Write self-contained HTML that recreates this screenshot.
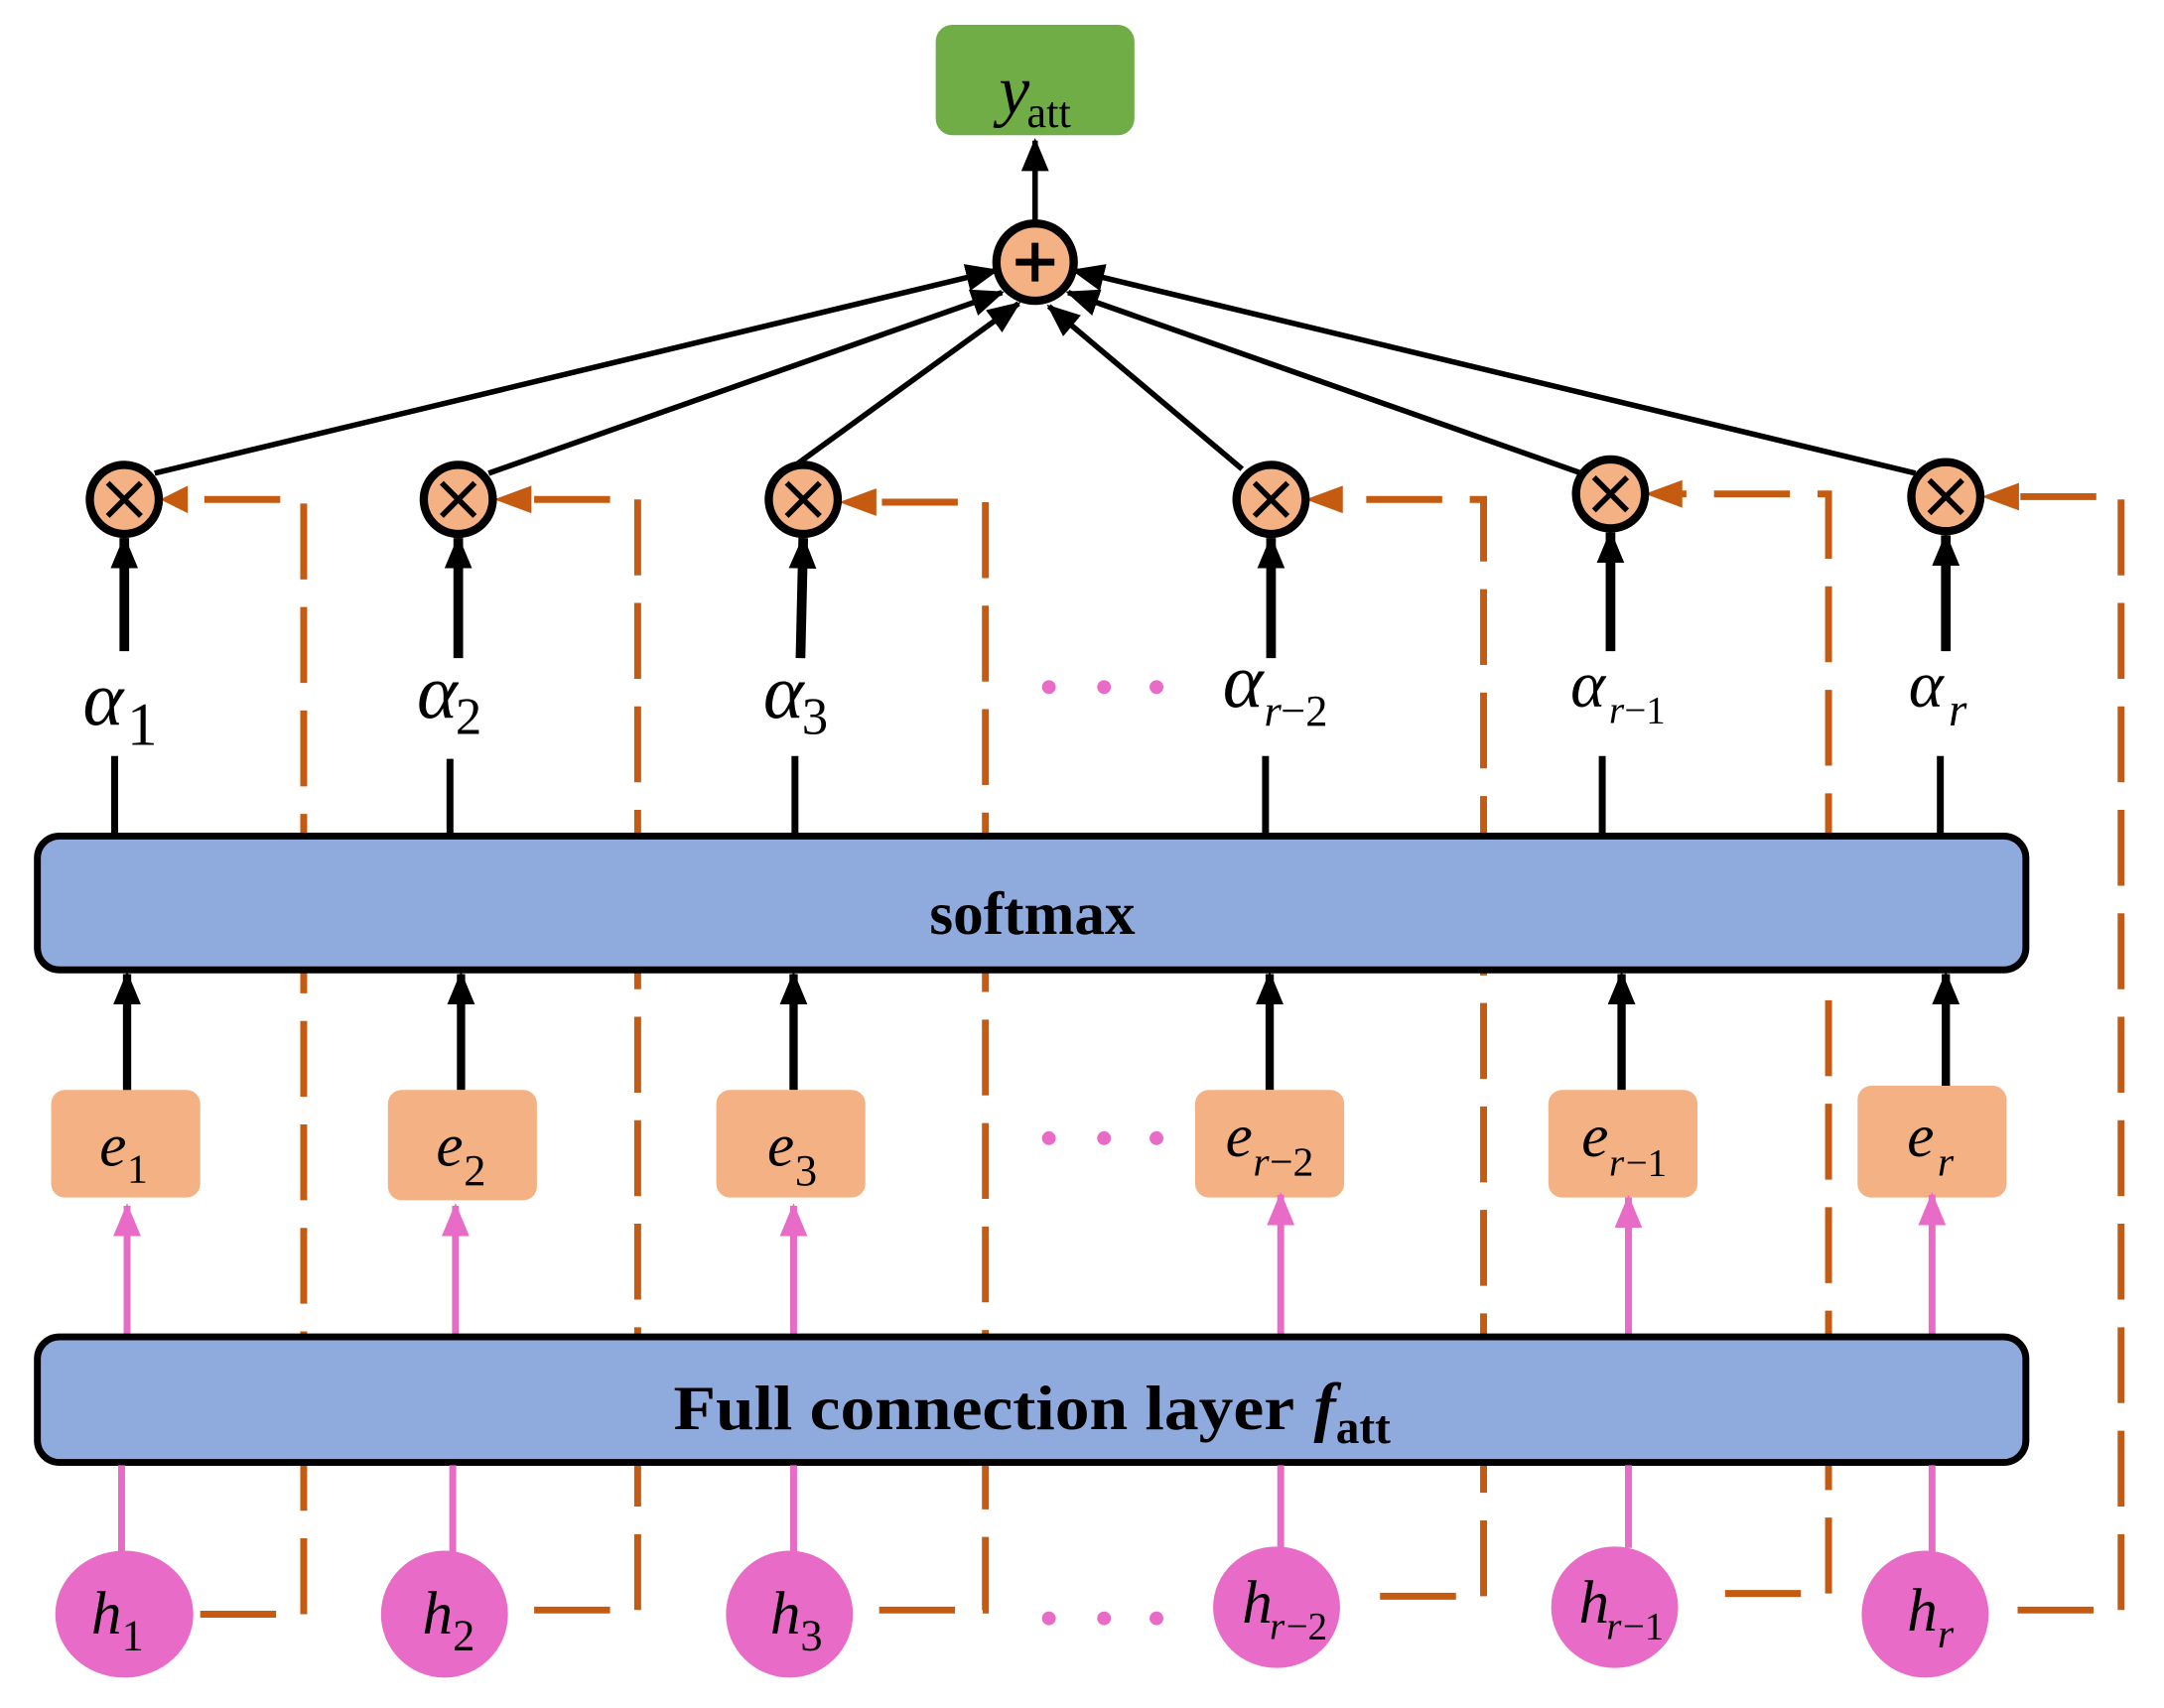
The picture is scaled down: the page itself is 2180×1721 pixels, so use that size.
<!DOCTYPE html>
<html><head><meta charset="utf-8"><style>
html,body{margin:0;padding:0;background:#fff;}
svg{display:block}
text{font-family:"Liberation Serif",serif;}
</style></head><body>
<svg width="2180" height="1721" viewBox="0 0 1568 1238" xmlns="http://www.w3.org/2000/svg">
<defs>
<marker id="abig" markerWidth="24" markerHeight="24" refX="22" refY="12" orient="auto" markerUnits="userSpaceOnUse"><path d="M0,2 L24,12 L0,22 z" fill="#000"/></marker>
<marker id="ap" markerWidth="24" markerHeight="24" refX="22" refY="12" orient="auto" markerUnits="userSpaceOnUse"><path d="M0,2 L24,12 L0,22 z" fill="#e96bc8"/></marker>
</defs>
<g fill="none" stroke="#c55a11" stroke-width="5" stroke-dasharray="55,20">
<path d="M145,1170 L220,1170 L220,362 L140,362"/>
<path d="M387,1167 L462,1167 L462,362 L382,362"/>
<path d="M637,1167 L714,1167 L714,364 L632,364"/>
<path d="M1000,1157 L1075,1157 L1075,362 L970,362"/>
<path d="M1250,1155 L1325,1155 L1325,358 L1217,358"/>
<path d="M1462,1167 L1537,1167 L1537,360 L1460,360"/>
</g>
<g fill="#c55a11">
<path d="M116,362 L136,352 L136,372 z"/>
<path d="M358,362 L385,352 L385,372 z"/>
<path d="M608,364 L635,354 L635,374 z"/>
<path d="M946,362 L973,352 L973,372 z"/>
<path d="M1192,358 L1219,348 L1219,368 z"/>
<path d="M1436,360 L1463,350 L1463,370 z"/>
</g>
<rect x="678" y="18" width="144" height="80" rx="12" fill="#70ad47"/>
<text x="746" y="82" font-size="50" font-style="italic" text-anchor="end">y</text>
<text x="744" y="92" font-size="32">att</text>
<line x1="750" y1="162" x2="750" y2="102" stroke="#000" stroke-width="4" marker-end="url(#abig)"/>
<g stroke="#000" stroke-width="4" marker-end="url(#abig)">
<line x1="112" y1="343" x2="722" y2="196"/>
<line x1="354" y1="343" x2="726" y2="212"/>
<line x1="578" y1="336" x2="738" y2="220"/>
<line x1="900" y1="340" x2="760" y2="222"/>
<line x1="1146" y1="343" x2="774" y2="212"/>
<line x1="1388" y1="343" x2="778" y2="196"/>
</g>
<circle cx="750" cy="190" r="28" fill="#f4b183" stroke="#000" stroke-width="6"/>
<path d="M736,190 H764 M750,176 V204" stroke="#000" stroke-width="5"/>
<g>
<g transform="translate(90,362)"><circle r="25" fill="#f4b183" stroke="#000" stroke-width="6"/><path d="M-12,-12 L12,12 M12,-12 L-12,12" stroke="#000" stroke-width="4"/></g>
<g transform="translate(332,362)"><circle r="25" fill="#f4b183" stroke="#000" stroke-width="6"/><path d="M-12,-12 L12,12 M12,-12 L-12,12" stroke="#000" stroke-width="4"/></g>
<g transform="translate(582,362)"><circle r="25" fill="#f4b183" stroke="#000" stroke-width="6"/><path d="M-12,-12 L12,12 M12,-12 L-12,12" stroke="#000" stroke-width="4"/></g>
<g transform="translate(921,362)"><circle r="25" fill="#f4b183" stroke="#000" stroke-width="6"/><path d="M-12,-12 L12,12 M12,-12 L-12,12" stroke="#000" stroke-width="4"/></g>
<g transform="translate(1167,358)"><circle r="25" fill="#f4b183" stroke="#000" stroke-width="6"/><path d="M-12,-12 L12,12 M12,-12 L-12,12" stroke="#000" stroke-width="4"/></g>
<g transform="translate(1410,360)"><circle r="25" fill="#f4b183" stroke="#000" stroke-width="6"/><path d="M-12,-12 L12,12 M12,-12 L-12,12" stroke="#000" stroke-width="4"/></g>
</g>
<g stroke="#000" stroke-width="7" marker-end="url(#abig)">
<line x1="90" y1="472" x2="90" y2="390"/>
<line x1="332" y1="477" x2="332" y2="390"/>
<line x1="580" y1="477" x2="582" y2="390"/>
<line x1="921" y1="477" x2="921" y2="390"/>
<line x1="1167" y1="472" x2="1167" y2="386"/>
<line x1="1410" y1="472" x2="1410" y2="388"/>
</g>
<g font-style="italic" font-size="56">
<text x="60" y="525">α</text><text x="92" y="540" font-style="normal" font-size="44">1</text>
<text x="302" y="520">α</text><text x="330" y="532" font-style="normal" font-size="38">2</text>
<text x="553" y="520">α</text><text x="581" y="532" font-style="normal" font-size="38">3</text>
<text x="886" y="512">α</text><text x="916" y="526" font-size="32">r</text><text x="928" y="526" font-style="normal" font-size="32">−2</text>
<text x="1138" y="512" font-size="48">α</text><text x="1166" y="524" font-size="28">r</text><text x="1177" y="524" font-style="normal" font-size="28">−1</text>
<text x="1383" y="512" font-size="48">α</text><text x="1412" y="526" font-size="34">r</text>
</g>
<g fill="#e96bc8"><circle cx="760" cy="498" r="5"/><circle cx="800" cy="498" r="5"/><circle cx="838" cy="498" r="5"/>
<circle cx="760" cy="825" r="5"/><circle cx="800" cy="825" r="5"/><circle cx="838" cy="825" r="5"/>
<circle cx="760" cy="1173" r="5"/><circle cx="800" cy="1173" r="5"/><circle cx="838" cy="1173" r="5"/></g>
<g stroke="#000" stroke-width="5">
<line x1="83" y1="548" x2="83" y2="606"/><line x1="326" y1="550" x2="326" y2="606"/><line x1="576" y1="548" x2="576" y2="606"/>
<line x1="917" y1="548" x2="917" y2="606"/><line x1="1161" y1="548" x2="1161" y2="606"/><line x1="1406" y1="548" x2="1406" y2="606"/>
</g>
<rect x="27" y="606" width="1441" height="97" rx="16" fill="#8faadc" stroke="#000" stroke-width="5"/>
<text x="748" y="677" font-size="44" font-weight="bold" text-anchor="middle">softmax</text>
<g stroke="#000" stroke-width="6" marker-end="url(#abig)">
<line x1="92" y1="792" x2="92" y2="706"/><line x1="334" y1="790" x2="334" y2="706"/><line x1="575" y1="790" x2="575" y2="706"/>
<line x1="920" y1="790" x2="920" y2="706"/><line x1="1175" y1="790" x2="1175" y2="706"/><line x1="1410" y1="788" x2="1410" y2="706"/>
</g>
<g fill="#f4b183">
<rect x="37" y="790" width="108" height="78" rx="10"/><rect x="281" y="790" width="108" height="80" rx="10"/><rect x="519" y="790" width="108" height="78" rx="10"/>
<rect x="866" y="790" width="108" height="78" rx="10"/><rect x="1122" y="790" width="108" height="78" rx="10"/><rect x="1346" y="787" width="108" height="81" rx="10"/>
</g>
<g font-size="44" font-style="italic">
<text x="72" y="845">e</text><text x="92" y="857" font-style="normal" font-size="30">1</text>
<text x="316" y="845">e</text><text x="336" y="859" font-style="normal" font-size="32">2</text>
<text x="556" y="845">e</text><text x="576" y="859" font-style="normal" font-size="32">3</text>
<text x="888" y="838">e</text><text x="908" y="852" font-size="30">r</text><text x="920" y="852" font-style="normal" font-size="30">−2</text>
<text x="1146" y="838">e</text><text x="1166" y="852" font-size="28">r</text><text x="1178" y="852" font-style="normal" font-size="28">−1</text>
<text x="1382" y="838">e</text><text x="1404" y="852" font-size="30">r</text>
</g>
<g stroke="#e96bc8" stroke-width="5" marker-end="url(#ap)">
<line x1="92" y1="968" x2="92" y2="874"/><line x1="330" y1="968" x2="330" y2="874"/><line x1="575" y1="968" x2="575" y2="874"/>
<line x1="928" y1="968" x2="928" y2="866"/><line x1="1180" y1="968" x2="1180" y2="868"/><line x1="1400" y1="968" x2="1400" y2="866"/>
</g>
<rect x="27" y="969" width="1441" height="91" rx="16" fill="#8faadc" stroke="#000" stroke-width="5"/>
<text x="488" y="1036" font-size="46" font-weight="bold" textLength="450" lengthAdjust="spacingAndGlyphs">Full connection layer</text>
<text x="952" y="1036" font-size="48" font-weight="bold" font-style="italic">f</text>
<text x="968" y="1046" font-size="34" font-weight="bold">att</text>
<g stroke="#e96bc8" stroke-width="5">
<line x1="88" y1="1062" x2="88" y2="1128"/><line x1="328" y1="1062" x2="328" y2="1128"/><line x1="575" y1="1062" x2="575" y2="1128"/>
<line x1="928" y1="1062" x2="928" y2="1125"/><line x1="1180" y1="1062" x2="1180" y2="1122"/><line x1="1400" y1="1062" x2="1400" y2="1128"/>
</g>
<g fill="#e96bc8">
<ellipse cx="90" cy="1170" rx="50" ry="46"/><ellipse cx="322" cy="1170" rx="46" ry="46"/><ellipse cx="572" cy="1170" rx="46" ry="46"/>
<ellipse cx="925" cy="1165" rx="46" ry="44"/><ellipse cx="1170" cy="1165" rx="46" ry="44"/><ellipse cx="1395" cy="1170" rx="46" ry="46"/>
</g>
<g font-size="44" font-style="italic">
<text x="66" y="1184">h</text><text x="88" y="1196" font-style="normal" font-size="32">1</text>
<text x="306" y="1184">h</text><text x="328" y="1196" font-style="normal" font-size="32">2</text>
<text x="558" y="1184">h</text><text x="580" y="1196" font-style="normal" font-size="32">3</text>
<text x="900" y="1176">h</text><text x="920" y="1188" font-size="28">r</text><text x="932" y="1188" font-style="normal" font-size="28">−2</text>
<text x="1144" y="1176">h</text><text x="1164" y="1188" font-size="28">r</text><text x="1176" y="1188" font-style="normal" font-size="28">−1</text>
<text x="1382" y="1182">h</text><text x="1404" y="1194" font-size="30">r</text>
</g>
</svg>
</body></html>
